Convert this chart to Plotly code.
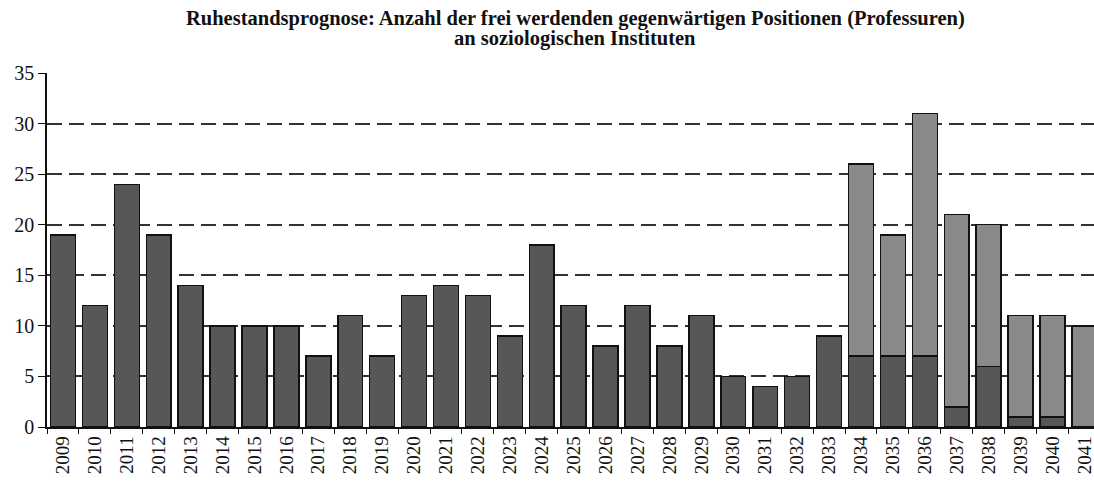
import plotly.graph_objects as go

years = [str(y) for y in range(2009, 2042)]
dark = [19, 12, 24, 19, 14, 10, 10, 10, 7, 11, 7, 13, 14, 13, 9, 18, 12, 8, 12, 8, 11, 5, 4, 5, 9,
        7, 7, 7, 2, 6, 1, 1, 0]
light = [0] * 25 + [19, 12, 24, 19, 14, 10, 10, 10]
y_ticks = [0, 5, 10, 15, 20, 25, 30, 35]
title_lines = ["Ruhestandsprognose: Anzahl der frei werdenden gegenwärtigen Positionen (Professuren)",
               "an soziologischen Instituten"]

fig = go.Figure()
fig.add_bar(x=years, y=dark, marker=dict(color="#575757", line=dict(color="#111", width=1.5)))
fig.add_bar(x=years, y=light, marker=dict(color="#8a8a8a", line=dict(color="#111", width=1.5)))

for i, line in enumerate(title_lines):
    fig.add_annotation(text="<b>" + line + "</b>", xref="paper", yref="paper",
                       x=(575 - 47) / 1047, y=1 + (73 - 5 - 19.5 * i) / 354,
                       xanchor="center", yanchor="top", showarrow=False,
                       font=dict(family="Liberation Serif", size=20.5, color="#111"))

fig.update_layout(
    barmode="stack", bargap=0.22, showlegend=False,
    width=1094, height=487,
    margin=dict(l=47, r=0, t=73, b=60, autoexpand=False),
    plot_bgcolor="white", paper_bgcolor="white",
    font=dict(family="Liberation Serif", size=19, color="#111"),
    xaxis=dict(type="category", range=[-0.5, 32.3], tickangle=-90, showline=True,
               linecolor="#111", linewidth=1.5, ticks="outside", tickson="boundaries",
               ticklen=5, tickcolor="#111", showgrid=False, automargin=False,
               ticklabeloverflow="allow", tickfont=dict(size=19)),
    yaxis=dict(range=[0, 35], tickvals=y_ticks, showline=True, linecolor="#111", linewidth=1.5,
               ticks="outside", ticklen=7, tickcolor="#111", showgrid=True, automargin=False,
               gridcolor="#333", griddash="15px,7px", gridwidth=2.2, zeroline=False,
               tickfont=dict(size=20)),
)
fig.write_html("out.html", config={"displayModeBar": False},
               post_script="document.body.style.margin='0';document.body.style.overflow='hidden';")
